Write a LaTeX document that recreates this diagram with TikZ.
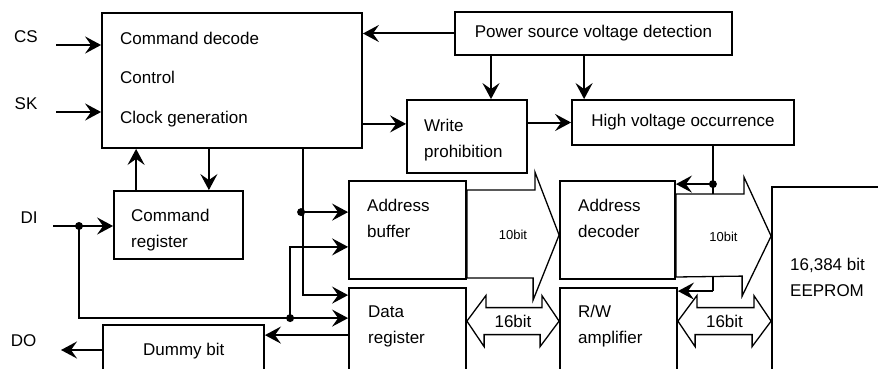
\documentclass[tikz,border=0pt]{standalone}
\usepackage{fontspec}
\setmainfont{Liberation Sans}
\usetikzlibrary{calc,arrows.meta,backgrounds}

\begin{document}
\begin{tikzpicture}[x=1pt,y=-1pt,
    blk/.style={draw, line width=1.8pt, fill=white, inner sep=0pt},
    txt/.style={inner sep=0pt, align=left, anchor=base west, font=\fontsize{17}{26}\selectfont},
    wire/.style={line width=2pt},
    arr/.style={line width=2pt, -{Stealth[length=16pt,width=17pt,inset=6pt]}},
    bus/.style={draw, line width=1.3pt, fill=white, line join=miter},
    small/.style={inner sep=0pt, font=\fontsize{13}{15}\selectfont}]
    \useasboundingbox (0,0) rectangle (878,369);
    \clip (0,0) rectangle (878,369);

    % blocks
    \node[blk, minimum width=260, minimum height=135] at (232,80.5) (ctrl) {};
    \node[blk, minimum width=277, minimum height=43, font=\fontsize{17}{20}\selectfont] at (593.5,33.5) (pwr) {Power source voltage detection};
    \node[blk, minimum width=120, minimum height=73] at (467,136.5) (wp) {};
    \node[blk, minimum width=222, minimum height=45, font=\fontsize{17}{20}\selectfont] at (683,122.5) (hv) {High voltage occurrence};
    \node[blk, minimum width=129, minimum height=68] at (178.5,225) (creg) {};
    \node[blk, minimum width=117, minimum height=98] at (407.5,230) (abuf) {};
    \node[blk, minimum width=117, minimum height=132] at (407.5,354) (dreg) {};
    \node[blk, minimum width=115, minimum height=98] at (617.5,230) (adec) {};
    \node[blk, minimum width=117, minimum height=132] at (618.5,354) (rw) {};
    \node[blk, minimum width=148, minimum height=233] at (846,303.5) (eep) {};
    \node[blk, minimum width=161, minimum height=95] at (183.5,372.5) (dmy) {};

    % texts (placed by the baseline of their last line)
    \node[txt, font=\fontsize{17}{39.5}\selectfont] at (120,123) (ctrl-t) {Command decode\\Control\\Clock generation};
    \node[txt] at (424,157) (wp-t) {Write\\prohibition};
    \node[txt] at (131,247) (creg-t) {Command\\register};
    \node[txt] at (367,237) (abuf-t) {Address\\buffer};
    \node[txt] at (368,343) (dreg-t) {Data\\register};
    \node[txt] at (578,237) (adec-t) {Address\\decoder};
    \node[txt] at (578,343) (rw-t) {R/W\\amplifier};
    \node[txt] at (790,296) (eep-t) {16,384 bit\\EEPROM};
    \node[txt] at (143,355) (dmy-t) {Dummy bit};

    % pins
    \node[txt, anchor=base] at (26,43) (cs) {CS};
    \node[txt, anchor=base] at (26,110) (sk) {SK};
    \node[txt, anchor=base] at (29,223) (di) {DI};
    \node[txt, anchor=base] at (23.5,346) (do) {DO};
    \coordinate (csin) at (56,45);
    \coordinate (skin) at (56,112);
    \coordinate (diin) at (53,226);
    \coordinate (doout) at (61,350);

    % taps
    \coordinate (tapC) at ($(ctrl.south east)+(-60,0)$);
    \coordinate (tapA) at ($(abuf.north west)+(-47,32)$);
    \coordinate (tapD) at ($(diin)+(26,0)$);
    \coordinate (tapE) at ($(dreg.north west)+(-58,31)$);
    \coordinate (tapH) at ($(adec.north east)+(37,4)$);
    \coordinate (tapR) at ($(rw.north east)+(35,4)$);

    \begin{scope}[on background layer]
    \draw[wire] (tapH |- hv.south) -- (tapR);
    % address buses
    \draw[bus] ($(abuf.east)+(0,-40)$) -- ++(68,0) -- ++(0,-18) -- ($(adec.west)+(0,5)$)
        -- ++(-26,65) -- ++(0,-22) -- ($(abuf.east)+(0,48)$) -- cycle;
    \draw[bus] ($(adec.east)+(0,-36)$) -- ++(68,0) -- ++(0,-17) -- ($(eep.north west)+(0,50)$)
        -- ++(-29,60) -- ++(0,-20) -- ($(adec.east)+(0,47)$) -- cycle;
    % data buses
    \draw[bus] ($(dreg.north east)+(0,34)$) -- ++(19,-25.5) -- ++(0,12) -- ++(56,0) -- ++(0,-12)
        -- ($(rw.north west)+(0,34)$) -- ++(-19,25.5) -- ++(0,-12) -- ++(-56,0) -- ++(0,12) -- cycle;
    \draw[bus] ($(rw.north east)+(0,34)$) -- ++(19,-25.5) -- ++(0,12) -- ++(57,0) -- ++(0,-12)
        -- ($(eep.north west)+(0,135)$) -- ++(-19,25.5) -- ++(0,-12) -- ++(-57,0) -- ++(0,12) -- cycle;
    \end{scope}
    \node[small] at ($(abuf.east)!.5!(adec.west)+(0,5)$) (bus1) {10bit};
    \node[small] at ($(adec.east)!.5!(eep.west |- adec.east)+(0,7)$) (bus2) {10bit};
    \node[txt, anchor=center] at ($(dreg.north east)!.5!(rw.north west)+(0,34)$) (bus3) {16bit};
    \node[txt, anchor=center] at ($(rw.north east)!.5!(eep.west |- rw.north east)+(0,34)$) (bus4) {16bit};

    % connections
    \draw[arr] (csin) -- (csin -| ctrl.west);
    \draw[arr] (skin) -- (skin -| ctrl.west);
    \draw[arr] (pwr.west) -- (pwr.west -| ctrl.east);
    \draw[arr] ([xshift=24pt]wp.north |- pwr.south) -- ([xshift=24pt]wp.north);
    \draw[arr] ([xshift=13pt]hv.north west |- pwr.south) -- ([xshift=13pt]hv.north west);
    \draw[arr] ($(ctrl.south east)+(0,-25)$) -- ($(wp.west |- ctrl.south east)+(0,-25)$);
    \draw[arr] (wp.east |- hv.west) -- (hv.west);
    \draw[arr] (tapH) -- (tapH -| adec.east);
    \draw[arr] (tapR) -- (tapR -| rw.east);
    \draw[arr] ([xshift=23pt]creg.north west) -- ([xshift=23pt]creg.north west |- ctrl.south);
    \draw[arr] ([xshift=-35pt]creg.north east |- ctrl.south) -- ([xshift=-35pt]creg.north east);
    \draw[arr] (tapC) |- ($(dreg.north west)+(0,8)$);
    \draw[arr] (tapA) -- (tapA -| abuf.west);
    \draw[arr] (diin) -- (diin -| creg.west);
    \draw[arr] (tapD) |- (tapE -| dreg.west);
    \draw[arr] (tapE) |- ($(abuf.south west)+(0,-33)$);
    \draw[arr] ($(dreg.north west)+(0,48)$) -- ($(dmy.east |- dreg.north west)+(0,48)$);
    \draw[arr] (doout -| dmy.west) -- (doout);
    \foreach \p in {tapA,tapD,tapE,tapH}
        \fill (\p) circle (4pt);
\end{tikzpicture}
\end{document}
